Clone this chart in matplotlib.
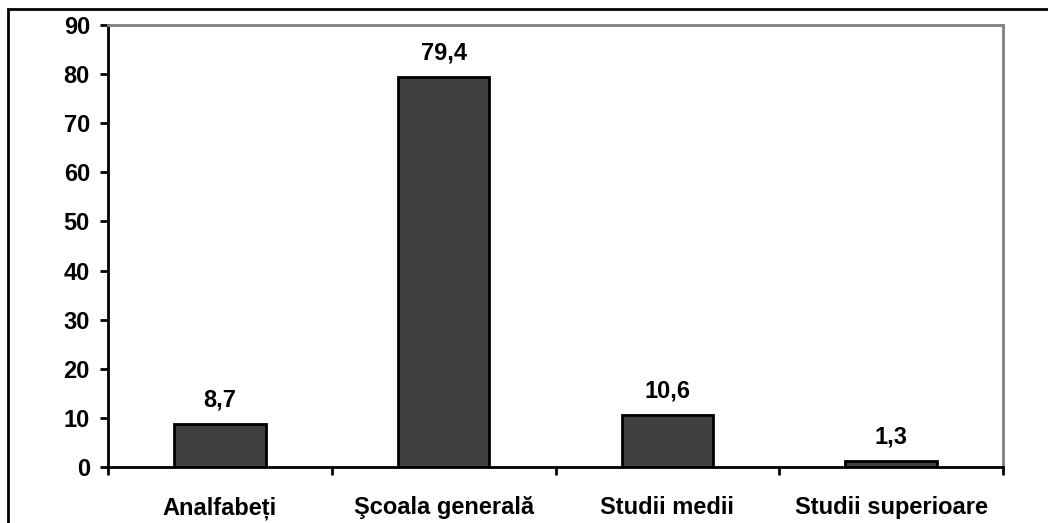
import matplotlib
matplotlib.use("Agg")
import matplotlib.pyplot as plt
from matplotlib.patches import Rectangle

categories = ["Analfabeți", "Şcoala generală", "Studii medii", "Studii superioare"]
values = [8.7, 79.4, 10.6, 1.3]
value_labels = ["8,7", "79,4", "10,6", "1,3"]
yticks = [0, 10, 20, 30, 40, 50, 60, 70, 80, 90]

plt.rcParams['font.family'] = ['Liberation Sans', 'DejaVu Sans']
plt.rcParams['font.weight'] = 'bold'
FS = 17

W, H = 1048, 523
fig = plt.figure(figsize=(W/100, H/100), dpi=100)
left, right, top, bottom = 108, 1003, 25, 467
ax = fig.add_axes([left/W, 1 - bottom/H, (right-left)/W, (bottom-top)/H])

x = list(range(len(categories)))
ax.bar(x, values, width=0.41, color="#404040", edgecolor="black", linewidth=2, zorder=3)
ax.set_xlim(-0.5, len(categories) - 0.5)
ax.set_ylim(0, 90)
ax.set_yticks(yticks)
ax.set_yticklabels([str(t) for t in yticks], fontsize=FS, fontweight='bold')
ax.set_xticks(x)
ax.set_xticklabels(categories, fontsize=FS, fontweight='bold')
ax.tick_params(axis='x', length=0, pad=21)
ax.tick_params(axis='y', length=6, width=2, direction='out', pad=7)
# category boundary ticks
ax.set_xticks([i - 0.5 for i in range(len(categories) + 1)], minor=True)
ax.tick_params(axis='x', which='minor', length=6, width=2, direction='out')

for xi, v, lab in zip(x, values, value_labels):
    ax.annotate(lab, (xi, v), xytext=(0, 9), textcoords='offset points',
                ha='center', va='bottom', fontsize=FS, fontweight='bold')

ax.spines['left'].set_linewidth(2)
ax.spines['bottom'].set_linewidth(2)
ax.spines['left'].set_color('black')
ax.spines['bottom'].set_color('black')
for s in ['top', 'right']:
    ax.spines[s].set_color('#808080')
    ax.spines[s].set_linewidth(2)

fig.patches.append(Rectangle((8/W, -0.1), 1.1, 1 - 9/H + 0.1, transform=fig.transFigure,
                             fill=False, edgecolor='black', linewidth=2))

fig.savefig("out.png", dpi=100)
